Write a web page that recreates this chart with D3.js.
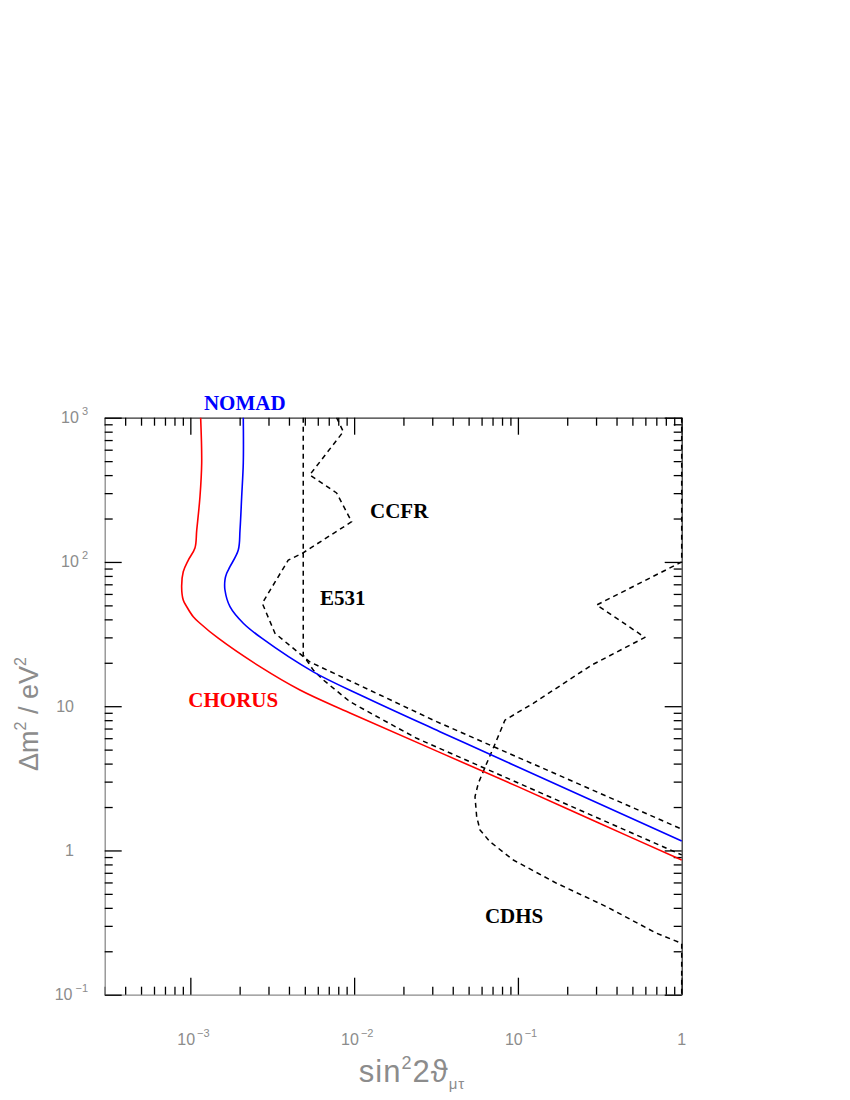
<!doctype html>
<html lang="en">
<head>
  <meta charset="utf-8">
  <title>nu_mu - nu_tau oscillation limits</title>
  <style>
    body { margin: 0; background: #fff; }
    svg { display: block; }
    .axis .tick line { stroke: #000; stroke-width: 1.3; }
    .axis path.domain { stroke: #8a8a8a; stroke-width: 1.3; }
    .axis.top path.domain, .axis.right path.domain { stroke: #333; }
    .ticklabel, .title {
      fill: #8c8c8c;
      font-family: "Liberation Sans", "DejaVu Sans", sans-serif;
    }
    .ticklabel { font-size: 16px; }
    .exp { font-size: 11px; }
    .limit { fill: none; stroke-width: 1.6; stroke-linejoin: round; }
    .dashed { stroke: #000; stroke-width: 1.5; stroke-dasharray: 5,4; }
    .name {
      font-family: "Liberation Serif", "Times New Roman", serif;
      font-weight: bold;
      font-size: 21px;
    }
  </style>
</head>

<body>
  <div id="chart"></div>
  <script src="https://cdn.jsdelivr.net/npm/d3@7"></script>

  <script>
(function() {

  // axis ranges and labelled ticks
  var xDomain = [3e-4, 1];
  var yDomain = [0.1, 1000];
  var xTickVals = [1e-3, 1e-2, 1e-1, 1];
  var xTickBase = ["10", "10", "10", "1"];
  var xTickExp = ["\u22123", "\u22122", "\u22121", ""];
  var yTickVals = [0.1, 1, 10, 100, 1000];
  var yTickBase = ["10", "1", "10", "10", "10"];
  var yTickExp = ["\u22121", "", "", "2", "3"];

  // exclusion contours, [sin^2 2theta, dm^2]
  var chorus = [[1.156e-3, 1000], [1.173e-3, 485], [1.145e-3, 283], [1.094e-3, 166],
    [1.067e-3, 125], [0.972e-3, 103], [0.905e-3, 85.5], [0.885e-3, 67.4], [0.905e-3, 54.5],
    [0.950e-3, 49], [1.042e-3, 41.7], [1.145e-3, 37.6], [1.48e-3, 29.6],
    [2.66e-3, 18.8], [4.67e-3, 12.95], [9.43e-3, 8.97], [0.1, 2.77],
    [0.3, 1.58], [1, 0.859]];
  var nomad = [[2.105e-3, 1000], [2.105e-3, 485], [2.058e-3, 283], [2.01e-3, 166],
    [1.962e-3, 121], [1.746e-3, 92.7], [1.667e-3, 83.4], [1.627e-3, 75], [1.627e-3, 63.9],
    [1.746e-3, 49], [2.105e-3, 37.6], [2.73e-3, 29.6],
    [5.63e-3, 17.3], [1.149e-2, 11.63], [3.34e-2, 6.66], [0.1, 3.79], [1, 1.164]];
  var e531 = [[4.89e-3, 1000], [4.89e-3, 22.6], [5.63e-3, 17.8], [6.48e-3, 15.2],
    [9.44e-3, 10.74], [1.439e-2, 8.24], [2.41e-2, 5.99], [1, 0.931]];
  var ccfr = [[7.82e-3, 1000], [8.59e-3, 800], [5.355e-3, 401], [7.82e-3, 300.6],
    [9.66e-3, 190], [4.825e-3, 114.8], [3.96e-3, 103], [2.75e-3, 51.7], [3.286e-3, 32],
    [5.375e-3, 20.25], [1.439e-2, 11.96], [3.19e-2, 7.81], [1, 1.406]];
  var cdhs = [[1, 1000], [1, 100], [0.3026, 50.3], [0.5965, 30], [0.2819, 19.27],
    [0.124, 10.47], [0.0834, 8.02], [0.0742, 5.83], [0.0645, 4.02], [0.0573, 2.92],
    [0.0547, 2.36], [0.056, 1.714], [0.0587, 1.386], [0.0675, 1.15], [0.0937, 0.859],
    [0.1724, 0.592], [0.348, 0.407], [0.703, 0.2665], [1, 0.227], [1, 0.1]];

  // experiment names, anchored at [sin^2 2theta, dm^2]
  var names = ["NOMAD", "CCFR", "E531", "CHORUS", "CDHS"];
  var nameAt = [[1.211e-3, 1131], [1.25e-2, 200.7], [6.19e-3, 50.3], [9.72e-4, 9.92], [0.0629, 0.3126]];
  var nameColor = ["#0000ff", "#000", "#000", "#ff0000", "#000"];

  var margin = {top: 417.7, left: 104.7};
  var width = 577;
  var height = 577;

  var svg = d3.select("#chart")
      .append("svg")
      .attr("width", 850)
      .attr("height", 1100);

  var g = svg.append("g")
      .attr("transform", "translate(" + margin.left + "," + margin.top + ")");

  var x = d3.scaleLog().domain(xDomain).range([0, width]);
  var y = d3.scaleLog().domain(yDomain).range([height, 0]);

  var isPow = function(v) {
    var l = Math.log10(v);
    return Math.abs(l - Math.round(l)) < 1e-9;
  };
  var xMinor = x.ticks().filter(function(v) { return !isPow(v); });
  var xMajor = x.ticks().filter(isPow);
  var yMinor = y.ticks().filter(function(v) { return !isPow(v); });
  var yMajor = y.ticks().filter(isPow);

  // frame with inward ticks on all four sides
  var sides = [
    {cls: "bottom", make: d3.axisBottom, s: x, minor: xMinor, major: xMajor, t: [0, height]},
    {cls: "top", make: d3.axisTop, s: x, minor: xMinor, major: xMajor, t: [0, 0]},
    {cls: "left", make: d3.axisLeft, s: y, minor: yMinor, major: yMajor, t: [0, 0]},
    {cls: "right", make: d3.axisRight, s: y, minor: yMinor, major: yMajor, t: [width, 0]}
  ];
  sides.forEach(function(sd) {
    var a = g.append("g")
        .attr("class", "axis " + sd.cls)
        .attr("transform", "translate(" + sd.t[0] + "," + sd.t[1] + ")");
    a.call(sd.make(sd.s).tickValues(sd.minor).tickSize(-8).tickSizeOuter(0).tickFormat(""));
    a.append("g")
        .call(sd.make(sd.s).tickValues(sd.major).tickSize(-17).tickSizeOuter(0).tickFormat(""))
        .call(function(s) { s.select(".domain").remove(); });
  });

  // tick labels
  xTickVals.forEach(function(v, i) {
    var t = g.append("text")
        .attr("class", "ticklabel")
        .attr("y", height + 50.3);
    if (xTickExp[i]) {
      t.attr("x", x(v) - 13).attr("text-anchor", "start");
      t.append("tspan").text(xTickBase[i]);
      t.append("tspan").attr("class", "exp").attr("dx", 2).attr("dy", -8).text(xTickExp[i]);
    } else {
      t.attr("x", x(v)).attr("text-anchor", "middle").text(xTickBase[i]);
    }
  });
  yTickVals.forEach(function(v, i) {
    var t = g.append("text")
        .attr("class", "ticklabel")
        .attr("text-anchor", "end")
        .attr("y", y(v) + 5.5);
    if (yTickExp[i]) {
      t.attr("x", -16.7);
      t.append("tspan").text(yTickBase[i]);
      t.append("tspan").attr("class", "exp").attr("dx", 3).attr("dy", -8).text(yTickExp[i]);
    } else {
      t.attr("x", -30.7).text(yTickBase[i]);
    }
  });

  // axis titles
  var xt = svg.append("text")
      .attr("class", "title")
      .attr("x", 412)
      .attr("y", 1082)
      .attr("text-anchor", "middle")
      .style("font-size", "31px")
      .style("letter-spacing", "1px");
  xt.append("tspan").text("sin");
  xt.append("tspan").style("font-size", "18px").attr("dy", -13).text("2");
  xt.append("tspan").attr("dy", 13).text("2\u03d1");
  xt.append("tspan").style("font-size", "15px").attr("dy", 7).text("\u03bc\u03c4");

  var yt = svg.append("text")
      .attr("class", "title")
      .attr("transform", "translate(38,714) rotate(-90)")
      .attr("text-anchor", "middle")
      .style("font-size", "27px");
  yt.append("tspan").text("\u0394m");
  yt.append("tspan").style("font-size", "16px").attr("dy", -12).text("2");
  yt.append("tspan").attr("dy", 12).text(" / eV");
  yt.append("tspan").style("font-size", "16px").attr("dy", -12).text("2");

  // contours
  var smooth = d3.line()
      .x(function(d) { return x(d[0]); })
      .y(function(d) { return y(d[1]); })
      .curve(d3.curveCatmullRom.alpha(0.5));
  var straight = d3.line()
      .x(function(d) { return x(d[0]); })
      .y(function(d) { return y(d[1]); });

  [e531, ccfr, cdhs].forEach(function(c) {
    g.append("path").attr("class", "limit dashed").attr("d", straight(c));
  });
  g.append("path").attr("class", "limit").attr("stroke", "#0000ff").attr("d", smooth(nomad));
  g.append("path").attr("class", "limit").attr("stroke", "#ff0000").attr("d", smooth(chorus));

  g.selectAll(".name")
      .data(names)
    .enter().append("text")
      .attr("class", "name")
      .attr("x", function(d, i) { return x(nameAt[i][0]); })
      .attr("y", function(d, i) { return y(nameAt[i][1]); })
      .attr("fill", function(d, i) { return nameColor[i]; })
      .text(function(d) { return d; });

})();
  </script>
</body>
</html>
